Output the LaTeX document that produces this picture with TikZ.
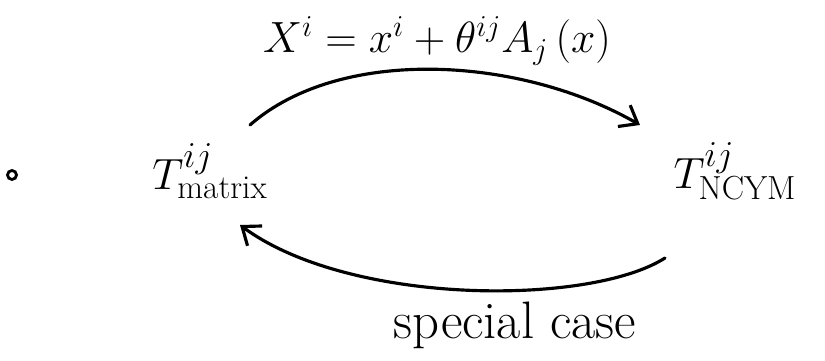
\documentclass[tikz,border=0pt]{standalone}
\usepackage{tikz}
\usetikzlibrary{arrows.meta,positioning,calc}

\tikzset{
  hand/.style={line width=1.8pt, line cap=round, -{Straight Barb[length=9pt,width=14pt,line width=1.8pt]}},
  bigmath/.style={font=\fontsize{32}{36}\selectfont},
}
\newcommand{\lowtag}[1]{\mbox{\fontsize{19}{22}\selectfont #1}}

\begin{document}
\begin{tikzpicture}
\useasboundingbox (0,0) rectangle (16.5,7.22);

% left mark
\draw[line width=1.6pt] (0.24,3.72) circle (0.09);

% the two T's
\node[bigmath] (Tm) at (4.2,3.8) {$T^{ij}_{\lowtag{matrix}}$};
\node[bigmath] (Tn) at (14.7,3.8) {$T^{ij}_{\lowtag{NCYM}}$};

% map on top
\coordinate (a1) at (5.0,4.72);
\coordinate (a2) at (12.8,4.72);
\draw[hand] (a1) .. controls (6.8,6.3) and (10.4,6.1) .. (a2);
\node[font=\fontsize{24}{28}\selectfont] (map) at (8.74,6.4) {$X^i = x^i + \theta^{ij} A_j\,(x)$};

% way back
\coordinate (b1) at (13.3,2.06);
\coordinate (b2) at (4.8,2.72);
\draw[hand] (b1) .. controls (11.8,1.1) and (7.0,1.1) .. (b2);
\node[font=\fontsize{30}{34}\selectfont] (spec) at (10.3,0.72) {special case};
\end{tikzpicture}
\end{document}
